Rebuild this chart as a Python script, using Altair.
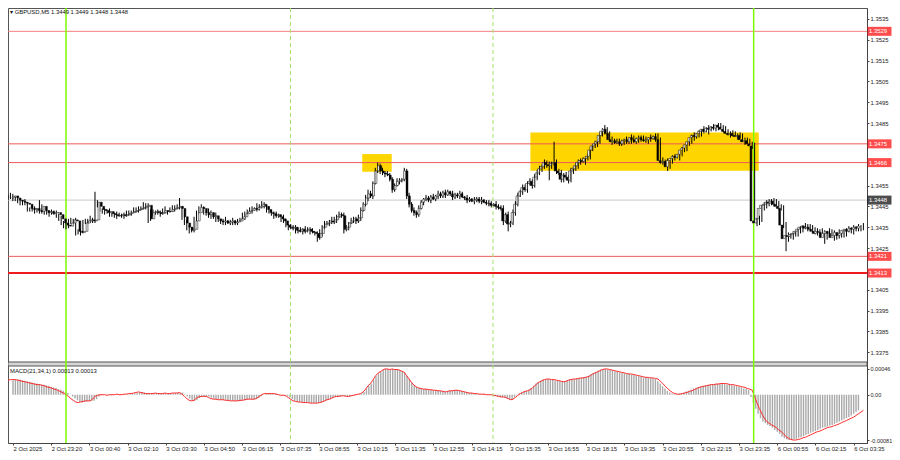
import json
import altair as alt
import pandas as pd

# ---------------- data (prices in pips above 1.3400, MACD in 1e-5) ----------------
BASE = 1.34
PIP = 0.0001
FIRST_OPEN = 49.0

CLOSE = [
    49.5, 50, 49, 48, 47.5, 47, 46.5, 46, 44, 43.5,
    44, 43, 42.5, 45, 43, 42, 42.5, 41.5, 42, 42,
    41, 39, 37, 36, 35.5, 37, 38.5, 38, 33, 32.5,
    33, 37, 38, 38.5, 38, 38.5, 47, 45, 43.5, 43,
    42, 42.5, 41.5, 41, 40.5, 40.5, 41, 40.5, 41, 41.5,
    42, 42.5, 43, 43.5, 44, 44.5, 45, 45.5, 39, 42,
    42.5, 42, 41.5, 42, 43, 42.5, 42.5, 43.5, 44, 44.5,
    45, 44, 40, 37, 35, 33.5, 34, 38, 42, 44.5,
    44, 42, 41, 42, 40, 40.5, 39, 38, 37.5, 38,
    37, 37.5, 38, 37, 37.5, 38, 39, 40, 41.5, 42.5,
    43, 44, 43.5, 44.5, 45, 46, 45, 43.5, 42, 41.5,
    40.5, 41, 40, 39, 38, 36, 35, 34.5, 35, 33.5,
    33, 34, 33, 33.5, 34, 33, 32.5, 32, 30, 32,
    35, 36.5, 37, 38, 37.5, 38.5, 40, 41, 40.5, 34,
    35, 37, 38, 39, 38, 39.5, 43, 46, 49, 51,
    50, 56, 62, 64.5, 62, 61, 60.5, 60, 58, 53,
    55, 57, 57.5, 58, 62, 50, 46, 43, 42, 41,
    44, 47, 48.5, 49, 48, 49.5, 48.5, 50, 51, 50,
    51.5, 50.5, 52, 51, 49.5, 50.5, 50, 51, 49.5, 49,
    48, 48.5, 47.5, 48, 48.5, 47.5, 48, 47, 46.5, 46.5,
    45.5, 46, 45, 44.5, 44, 38, 41, 36.5, 37, 42,
    46, 50, 52, 54, 53, 56, 57, 55, 59, 61,
    63, 64, 66, 65, 64.5, 65.5, 66, 62, 61, 58,
    60, 59, 57.5, 62, 63, 64.5, 66, 67, 66.5, 68,
    69, 72, 74, 75, 76, 79, 81, 82, 80, 77,
    76, 76.5, 75.5, 76, 75, 76.5, 77, 76, 78, 77,
    76, 77.5, 78, 77, 76.5, 77, 78, 77.5, 78.5, 77,
    67, 66, 66.5, 64, 67, 68, 69, 68.5, 70, 72,
    73, 74.5, 76, 78, 79, 78.5, 80, 81, 82, 81,
    82.5, 82, 83, 82.5, 84, 83, 82, 81, 80, 79.5,
    80, 79, 78.5, 79, 77, 76, 76.5, 75, 74, 38,
    37, 39, 44, 45.5, 46, 47, 46.5, 47.5, 46, 45,
    44, 36, 29.5, 31, 30.5, 31.5, 32, 33, 34, 35,
    35.5, 34.5, 35, 34, 33, 32, 33, 32.5, 30, 32,
    33, 32, 30, 31, 32.5, 31, 32, 33.5, 34, 33,
    34.5, 34, 35, 34.5, 35.5,
]

WICK_UP = [
    1, 1.5, 1, 0.5, 1.5, 1, 1, 2, 1, 0.5,
    1.5, 1, 1, 3, 1, 1.5, 1, 0.5, 1.5, 1,
    1, 0.5, 1.5, 1, 1, 2, 1, 0.5, 1.5, 1,
    1, 1.5, 1, 0.5, 2, 1, 5, 1, 1.5, 0.5,
    1, 1, 1.5, 0.5, 1, 2, 1, 0.5, 1, 1.5,
    1, 0.5, 1.5, 1, 1, 0.5, 2, 1, 1, 1.5,
    1, 0.5, 1.5, 1, 1, 2, 0.5, 1, 1.5, 1,
    1, 4, 1, 0.5, 1.5, 1, 1, 2, 1, 0.5,
    1.5, 1, 0.5, 2, 1, 1, 1.5, 0.5, 1, 1,
    2, 1, 0.5, 1.5, 1, 1, 0.5, 2, 1, 1,
    1.5, 1, 0.5, 2, 1, 1.5, 1, 0.5, 1.5, 1,
    1, 1.5, 0.5, 1, 2, 1, 0.5, 1.5, 1, 1,
    1.5, 1, 0.5, 2, 1, 1, 1.5, 0.5, 1, 2,
    1, 1.5, 1, 0.5, 2, 1.5, 1, 1.5, 1, 1.5,
    1, 0.5, 1.5, 1, 1, 1.5, 1.5, 1, 1.5, 2,
    1.5, 1, 1.5, 1.5, 1, 1.5, 1, 1.5, 1, 1,
    1, 1.5, 1, 0.5, 1.5, 1, 1.5, 1, 1.5, 1,
    1.5, 1, 0.5, 1.5, 1, 1, 1.5, 0.5, 1.5, 1,
    1, 1.5, 1, 0.5, 1.5, 1, 1, 1.5, 1, 0.5,
    1.5, 1, 0.5, 1.5, 1, 1, 1.5, 0.5, 1, 1.5,
    1, 0.5, 1.5, 1, 1, 1.5, 1, 1.5, 1, 1.5,
    1.5, 1.5, 1, 1.5, 1.5, 1, 1.5, 1, 1.5, 1.5,
    1.5, 1, 1.5, 1, 1.5, 1, 10, 1.5, 1, 1.5,
    1, 1.5, 1, 1.5, 1, 1.5, 1.5, 1, 1.5, 1,
    1.5, 1.5, 1, 1.5, 1, 1.5, 1.5, 2, 1, 1,
    1.5, 1, 1, 1.5, 1, 1, 1.5, 1, 1.5, 1,
    1, 1.5, 1, 1, 1.5, 1, 1.5, 1, 1.5, 1.5,
    1, 1.5, 1, 1.5, 1, 1.5, 1, 1, 1.5, 1.5,
    1, 1.5, 1, 1.5, 1.5, 1, 1.5, 1, 1.5, 1,
    1.5, 1, 1.5, 1, 1, 1, 1, 1.5, 1, 1,
    1.5, 1, 1, 1.5, 1, 1, 1.5, 1, 1, 1.5,
    1.5, 1.5, 1.5, 1.5, 2, 1.5, 1.5, 1.5, 1, 1.5,
    1, 1.5, 1.5, 1.5, 1, 1.5, 1, 1.5, 1.5, 1,
    1.5, 1, 1.5, 1, 1, 1.5, 1, 1.5, 1, 1,
    1.5, 1, 1.5, 1, 1.5, 1, 1.5, 1, 1.5, 1,
    1.5, 1, 1.5, 1, 1.5,
]

WICK_DN = [
    1, 1, 1.5, 0.5, 1, 1.5, 1, 0.5, 1.5, 1,
    1, 1.5, 0.5, 1, 1.5, 1, 1, 1.5, 0.5, 1,
    1.5, 1, 1, 1.5, 1.5, 1, 0.5, 1.5, 2, 1,
    1.5, 1, 0.5, 1.5, 1, 1, 1.5, 0.5, 1, 1.5,
    1, 0.5, 1.5, 1, 1, 1.5, 0.5, 1, 1.5, 1,
    1, 1.5, 0.5, 1, 1.5, 1, 1, 1.5, 2, 1,
    1.5, 1, 0.5, 1.5, 1, 1, 1.5, 0.5, 1, 1.5,
    1, 0.5, 1.5, 1, 1.5, 1.5, 1, 1.5, 0.5, 1,
    1.5, 1, 0.5, 1.5, 1, 1, 1.5, 0.5, 1, 1.5,
    1, 0.5, 1.5, 1, 1, 1.5, 0.5, 1, 1.5, 1,
    1, 1.5, 0.5, 1, 1.5, 1, 1, 1.5, 0.5, 1,
    1.5, 1, 0.5, 1.5, 1, 1, 1.5, 0.5, 1, 1.5,
    1, 0.5, 1.5, 1, 1, 1.5, 0.5, 1, 2, 1,
    1.5, 1, 0.5, 1.5, 1, 1, 1.5, 0.5, 1, 2,
    1, 1.5, 0.5, 1, 1.5, 1, 1.5, 0.5, 1, 1.5,
    1, 1.5, 0.5, 1, 1.5, 1, 1.5, 0.5, 1, 1.5,
    1, 0.5, 1.5, 1, 1, 1.5, 1.5, 1, 1.5, 1.5,
    1, 0.5, 1.5, 1, 1, 1.5, 0.5, 1, 1.5, 1,
    1, 1.5, 0.5, 1, 1.5, 1, 1, 1.5, 0.5, 1,
    1.5, 1, 0.5, 1.5, 1, 1, 1.5, 0.5, 1, 1.5,
    1, 0.5, 1.5, 1, 1, 2, 1, 3.5, 1.5, 1,
    1.5, 1, 0.5, 1.5, 1, 1.5, 1, 1.5, 1, 1.5,
    1, 1.5, 1, 1.5, 7, 1.5, 1, 1.5, 1, 1.5,
    1.5, 1, 1.5, 1, 1.5, 1, 1.5, 1, 0.5, 1.5,
    1, 1.5, 0.5, 1, 1.5, 1, 0.5, 1.5, 1, 0.5,
    1.5, 1, 0.5, 1.5, 1, 0.5, 1.5, 1, 1, 1.5,
    1, 0.5, 1.5, 1, 1, 1.5, 1, 0.5, 1.5, 1,
    1.5, 1, 0.5, 2, 1, 1.5, 1, 0.5, 1.5, 1,
    1, 1.5, 0.5, 1, 1.5, 1, 0.5, 1.5, 1, 0.5,
    1.5, 1, 0.5, 1.5, 1, 0.5, 1.5, 1, 1, 1.5,
    1, 0.5, 1.5, 1, 1, 1.5, 1, 0.5, 1.5, 1,
    1.5, 1, 1.5, 1, 1.5, 1, 1, 1.5, 1, 1.5,
    1, 1.5, 6, 1.5, 1, 1.5, 1, 1.5, 1, 1.5,
    1, 1.5, 1, 1.5, 1.5, 1, 1.5, 1, 3, 1,
    1.5, 1, 1.5, 1, 1.5, 1, 1, 1.5, 1, 1,
    1.5, 1, 1, 1.5, 1,
]

MACD = [
    26, 27, 27, 27, 26, 25, 24, 23, 22, 21,
    20, 19, 18, 18, 17, 16, 14, 13, 12, 10,
    9, 7, 5, 3, 0, -3, -7, -10, -13, -14,
    -13, -12, -11, -11, -11, -8, -3, -1, 0, 0,
    0, -1, 0, 0, 0, 1, 0, 0, 1, 1,
    2, 2, 3, 4, 5, 4, 3, 2, 2, 2,
    2, 3, 2, 2, 2, 3, 2, 2, 3, 3,
    3, 4, 1, -3, -7, -10, -11, -10, -6, -4,
    -3, -3, -3, -5, -7, -8, -8, -9, -9, -9,
    -10, -10, -11, -11, -11, -11, -10, -10, -9, -8,
    -8, -8, -8, -6, -3, 0, 2, 2, 2, 2,
    2, 1, 0, -1, -1, -2, -5, -8, -11, -12,
    -13, -13, -14, -14, -14, -15, -15, -15, -15, -14,
    -13, -11, -9, -8, -6, -4, -3, -3, -2, -2,
    -3, -3, -2, -1, 0, 1, 2, 5, 10, 16,
    20, 26, 33, 38, 41, 44, 46, 46, 45, 46,
    45, 45, 44, 42, 40, 34, 28, 22, 17, 14,
    12, 11, 10, 10, 9, 9, 8, 8, 7, 7,
    6, 5, 6, 7, 7, 8, 8, 7, 6, 5,
    4, 3, 3, 2, 2, 1, 1, 1, 0, 0,
    0, -1, -2, -3, -4, -4, -5, -7, -9, -8,
    -5, -1, 2, 4, 6, 7, 9, 12, 16, 20,
    23, 25, 27, 28, 28, 27, 27, 26, 25, 24,
    23, 24, 26, 27, 28, 28, 29, 30, 30, 31,
    32, 34, 37, 39, 41, 43, 45, 46, 46, 45,
    44, 43, 42, 41, 40, 39, 38, 37, 37, 36,
    35, 34, 33, 32, 31, 31, 30, 30, 29, 28,
    24, 20, 15, 11, 7, 4, 2, 1, 1, 2,
    3, 4, 6, 7, 9, 11, 13, 14, 15, 16,
    17, 18, 18, 19, 19, 20, 20, 20, 19, 18,
    18, 17, 16, 15, 14, 13, 11, 10, 8, -4,
    -15, -25, -34, -42, -48, -51, -54, -56, -59, -63,
    -66, -70, -75, -78, -80, -81, -81, -80, -79, -77,
    -76, -74, -72, -70, -68, -66, -65, -63, -61, -59,
    -58, -57, -55, -54, -52, -50, -48, -46, -44, -42,
    -40, -37, -34, -31, -28,
]

TIME_LABELS = [
    "2 Oct 2025", "2 Oct 23:20", "3 Oct 00:40", "3 Oct 02:10", "3 Oct 03:30",
    "3 Oct 04:50", "3 Oct 06:15", "3 Oct 07:35", "3 Oct 08:55", "3 Oct 10:15",
    "3 Oct 11:35", "3 Oct 12:55", "3 Oct 14:15", "3 Oct 15:35", "3 Oct 16:55",
    "3 Oct 18:15", "3 Oct 19:35", "3 Oct 20:55", "3 Oct 22:15", "3 Oct 23:35",
    "6 Oct 00:55", "6 Oct 02:15", "6 Oct 03:35",
]
BARS_PER_LABEL = 16

# tick labels that stay visible beside the coloured price tags
PRICE_TICKS = [1.3375, 1.3385, 1.3395, 1.3405, 1.3425, 1.3435, 1.3445,
               1.3455, 1.3485, 1.3495, 1.3505, 1.3515, 1.3525, 1.3535]
MACD_TICKS = [0.00046, 0.0, -0.00081]
MACD_TICK_LABELS = ["0.00046", "0.00", "-0.00081"]

RED_LEVELS = [1.3529, 1.3475, 1.3466, 1.3421, 1.3413]
RED_COLORS = ["#f58080", "#ec5a5a", "#ec5a5a", "#ec5a5a", "#ee1c1c"]
RED_WIDTHS = [1, 1, 1, 1, 2]
BID = 1.3448

VLINE_SOLID = [24.0, 308.6]
VLINE_DASH = [116.9, 200.7]

BOX_X0 = [146.6, 216.2]
BOX_X1 = [158.8, 310.7]
BOX_P0 = [1.34616, 1.34621]
BOX_P1 = [1.34701, 1.34804]

HEADER = "\u25BE GBPUSD,M5  1.3449 1.3449 1.3448 1.3448"
MACD_TITLE = "MACD(21,34,1) 0.00013 0.00013"

# ---------------- build tables ----------------
n = min(len(CLOSE), len(WICK_UP), len(WICK_DN), len(MACD))
rows = []
prev = FIRST_OPEN
for i in range(n):
    o, c = prev, CLOSE[i]
    rows.append(dict(
        i=i,
        open=BASE + o * PIP,
        close=BASE + c * PIP,
        high=BASE + (max(o, c) + WICK_UP[i]) * PIP,
        low=BASE + (min(o, c) - WICK_DN[i]) * PIP,
        dir="up" if c >= o else "down",
        macd=MACD[i] * 1e-5,
        zero=0.0,
    ))
    prev = c
df = pd.DataFrame(rows)

red_df = pd.DataFrame({"p": RED_LEVELS, "col": RED_COLORS, "w": RED_WIDTHS,
                       "label": [f"{v:.4f}" for v in RED_LEVELS]})
bid_df = pd.DataFrame({"p": [BID], "label": [f"{BID:.4f}"]})
box_df = pd.DataFrame({"x0": BOX_X0, "x1": BOX_X1, "p0": BOX_P0, "p1": BOX_P1})
vs_df = pd.DataFrame({"x": VLINE_SOLID})
vd_df = pd.DataFrame({"x": VLINE_DASH})
one = pd.DataFrame({"k": [0]})

# ---------------- geometry (whole chart kept inside 884 x 444) ----------------
FONT = "Liberation Sans"
FS = 5.9
MFS = 5.5
TOTAL_W, TOTAL_H = 884, 444
W = 859            # plot width
H = 435            # plot height: price panel 0..354, gap 354..358, MACD 358..435
GAP_TOP, GAP_BOT = 354, 358
XS = alt.Scale(domain=[0, 355.5], nice=False, zero=False)
YS = alt.Scale(domain=[1.333142, 1.35402], nice=False, zero=False)
MS = alt.Scale(domain=[-0.000863, 0.0069105], nice=False, zero=False)

x_none = alt.X("i:Q", scale=XS, axis=None)

price_axis = alt.Axis(values=PRICE_TICKS, format=".4f", orient="right", title=None,
                      tickSize=2, labelPadding=1, labelFontSize=FS, labelFont=FONT,
                      labelColor="#222", tickColor="#444", domainColor="#444",
                      grid=False, labelOverlap=False, zindex=0)

mlabel_expr = " : ".join(
    [f"abs(datum.value - ({v})) < 1e-6 ? '{s}'" for v, s in zip(MACD_TICKS, MACD_TICK_LABELS)]
) + " : ''"
macd_axis = alt.Axis(values=MACD_TICKS, labelExpr=mlabel_expr, orient="right", title=None,
                     tickSize=2, labelPadding=1, labelFontSize=MFS, labelFont=FONT,
                     labelColor="#222", tickColor="#444", domain=False,
                     grid=False, labelOverlap=False, zindex=0)

tlabel_expr = f"{json.dumps(TIME_LABELS)}[round(datum.value / {BARS_PER_LABEL})]"
time_axis = alt.Axis(values=[BARS_PER_LABEL * k for k in range(len(TIME_LABELS))],
                     labelExpr=tlabel_expr, title=None, tickSize=2, labelPadding=0,
                     labelAlign="left", labelBaseline="top", labelFontSize=FS, labelFont=FONT,
                     labelColor="#222", tickColor="#444", domainColor="#444",
                     grid=False, labelOverlap=False, labelBound=False, labelFlush=False, zindex=0)

# panel separator band
sep = alt.Chart(one).mark_rect(fill="#d6d6d6", stroke="#555", strokeWidth=1).encode(
    x=alt.value(0), x2=alt.value(W), y=alt.value(GAP_TOP), y2=alt.value(GAP_BOT))

boxes = alt.Chart(box_df).mark_rect(color="#FFD500").encode(
    x=alt.X("x0:Q", scale=XS, axis=None), x2="x1:Q",
    y=alt.Y("p0:Q", scale=YS, axis=price_axis), y2="p1:Q")

bid_line = alt.Chart(bid_df).mark_rule(color="#c8c8c8", strokeWidth=1).encode(
    y=alt.Y("p:Q", scale=YS, axis=None), x=alt.value(0), x2=alt.value(W))

red_lines = alt.Chart(red_df).mark_rule().encode(
    y=alt.Y("p:Q", scale=YS, axis=None), x=alt.value(0), x2=alt.value(W),
    color=alt.Color("col:N", scale=None),
    strokeWidth=alt.StrokeWidth("w:Q", scale=None))

hist = alt.Chart(df).mark_bar(size=1.4, color="#a9a9a9").encode(
    x=alt.X("i:Q", scale=XS, axis=time_axis),
    y=alt.Y("macd:Q", scale=MS, axis=macd_axis), y2="zero:Q")
sig = alt.Chart(df).mark_line(color="#ff2a2a", strokeWidth=1).encode(
    x=x_none, y=alt.Y("macd:Q", scale=MS, axis=None))

vsolid = alt.Chart(vs_df).mark_rule(color="#7CFC00", strokeWidth=1.5).encode(
    x=alt.X("x:Q", scale=XS, axis=None), y=alt.value(0), y2=alt.value(H))
vdash = alt.Chart(vd_df).mark_rule(color="#a6e06a", strokeWidth=1, strokeDash=[4, 3]).encode(
    x=alt.X("x:Q", scale=XS, axis=None), y=alt.value(0), y2=alt.value(H))

wicks = alt.Chart(df).mark_rule(color="#000", strokeWidth=1).encode(
    x=x_none, y=alt.Y("low:Q", scale=YS, axis=None), y2="high:Q")

bodies = alt.Chart(df).mark_bar(size=1.8, stroke="#000", strokeWidth=0.5).encode(
    x=x_none, y=alt.Y("open:Q", scale=YS, axis=None), y2="close:Q",
    color=alt.Color("dir:N", scale=alt.Scale(domain=["up", "down"], range=["#ffffff", "#000000"]),
                    legend=None))

TAG_X = W + 12.5
red_tags = alt.Chart(red_df).mark_tick(orient="horizontal", size=24, thickness=9).encode(
    x=alt.value(TAG_X), y=alt.Y("p:Q", scale=YS, axis=None), color=alt.value("#ff0000"))
red_text = alt.Chart(red_df).mark_text(align="left", baseline="middle", color="white",
                                       fontSize=FS, font=FONT).encode(
    x=alt.value(W + 2), y=alt.Y("p:Q", scale=YS, axis=None), text="label:N")
bid_tag = alt.Chart(bid_df).mark_tick(orient="horizontal", size=24, thickness=9).encode(
    x=alt.value(TAG_X), y=alt.Y("p:Q", scale=YS, axis=None), color=alt.value("#000000"))
bid_text = alt.Chart(bid_df).mark_text(align="left", baseline="middle", color="white",
                                       fontSize=FS, font=FONT).encode(
    x=alt.value(W + 2), y=alt.Y("p:Q", scale=YS, axis=None), text="label:N")

header = alt.Chart(pd.DataFrame({"t": [HEADER]})).mark_text(
    align="left", baseline="middle", fontSize=FS, font=FONT, color="#111").encode(
    x=alt.value(2), y=alt.value(4), text="t:N")
mtitle = alt.Chart(pd.DataFrame({"t": [MACD_TITLE]})).mark_text(
    align="left", baseline="middle", fontSize=FS, font=FONT, color="#111").encode(
    x=alt.value(2), y=alt.value(GAP_BOT + 5), text="t:N")

chart = alt.layer(
    boxes, bid_line, red_lines, hist, sig, sep, vsolid, vdash, wicks, bodies,
    red_tags, red_text, bid_tag, bid_text, header, mtitle,
).resolve_scale(
    x="independent", y="independent", color="independent", strokeWidth="independent"
).resolve_axis(
    x="independent", y="independent"
).properties(
    width=W, height=H,
    autosize=alt.AutoSizeParams(type="none"),
    padding={"left": 0, "top": 0, "right": TOTAL_W - W, "bottom": TOTAL_H - H},
    background="white",
).configure_view(stroke="#555", strokeWidth=1)

chart.save("out.html", embed_options={"renderer": "svg", "actions": False})
